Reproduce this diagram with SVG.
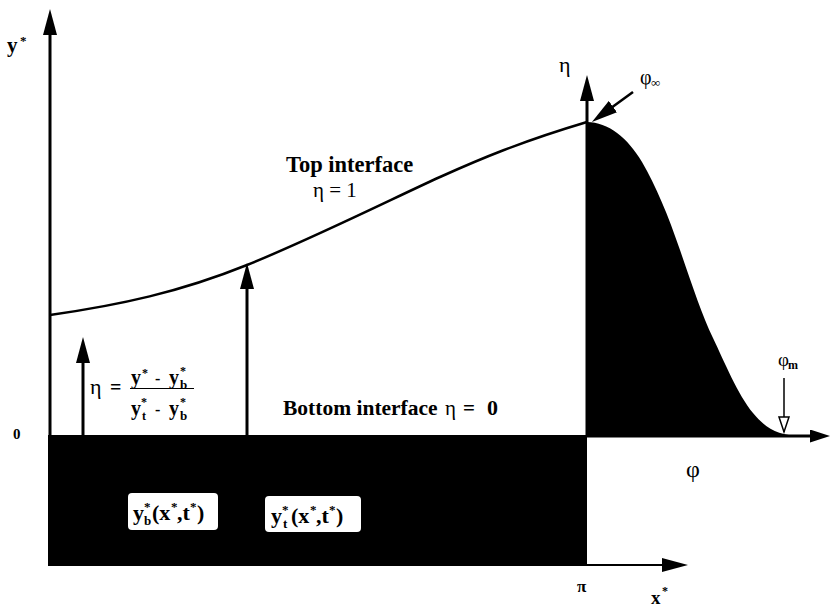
<svg xmlns="http://www.w3.org/2000/svg" width="834" height="608" viewBox="0 0 834 608">
<style>
.ln{stroke:#000;fill:none}
.b{font-family:"Liberation Serif","Times New Roman",Times,"DejaVu Serif",serif;font-weight:bold;fill:#000}
.n{font-family:"Liberation Serif","Times New Roman",Times,"DejaVu Serif",serif;font-weight:normal;fill:#000}
</style>
<defs>
<marker id="ah" markerUnits="userSpaceOnUse" viewBox="0 0 26 14" refX="16" refY="7" markerWidth="26" markerHeight="14" orient="auto">
<path d="M0,0 L26,7 L0,14 Z" fill="#000"/>
</marker>
<marker id="ahs" markerUnits="userSpaceOnUse" viewBox="0 0 20 13" refX="12" refY="6.5" markerWidth="20" markerHeight="13" orient="auto">
<path d="M0,0 L20,6.5 L0,13 Z" fill="#000"/>
</marker>
</defs>
<rect width="834" height="608" fill="#fff"/>

<g id="substrate">
<rect x="48" y="435" width="539" height="131" fill="#000"/>
</g>

<g id="phi-profile">
<path d="M587,122 C608,122 628,138 642,162 S668,215 680,250 S702,315 713,338 S738,395 753,413 S780,435 800,436 L587,436 Z" fill="#000"/>
</g>

<g id="connectors">
<line class="ln" x1="50" y1="435" x2="50" y2="19" stroke-width="3" marker-end="url(#ah)"/>
<line class="ln" x1="587" y1="565" x2="678" y2="565" stroke-width="2" marker-end="url(#ah)"/>
<line class="ln" x1="587" y1="435" x2="587" y2="85" stroke-width="3" marker-end="url(#ah)"/>
<line class="ln" x1="587" y1="436" x2="822" y2="436" stroke-width="3" marker-end="url(#ahs)"/>
<path class="ln" d="M50,315 C120,305 180,292 247,265 S400,195 440,177 S520,142 587,122" stroke-width="2.5"/>
<line class="ln" x1="83" y1="435" x2="83" y2="347" stroke-width="3" marker-end="url(#ah)"/>
<line class="ln" x1="247" y1="435" x2="247" y2="273" stroke-width="3" marker-end="url(#ah)"/>
<line class="ln" x1="633" y1="92" x2="600" y2="116" stroke-width="2.5" marker-end="url(#ah)"/>
<line class="ln" x1="784" y1="378" x2="784" y2="432" stroke-width="1.5"/>
<polygon points="779,417 789,417 784,432" fill="#fff" stroke="#000" stroke-width="1.5"/>
</g>

<g id="axis-labels">
<text class="b" x="7" y="52" font-size="21">y</text>
<text class="b" x="20" y="45" font-size="13">*</text>
<text class="b" x="13" y="439" font-size="15">0</text>
<text class="n" x="559" y="72" font-size="22">η</text>
<text class="n" x="640" y="84" font-size="20">φ</text>
<text class="n" x="651" y="87" font-size="13">∞</text>
<text class="n" x="778" y="366" font-size="19">φ</text>
<text class="b" x="788" y="369" font-size="12">m</text>
<text class="n" x="686" y="477" font-size="24">φ</text>
<text class="b" x="577" y="592" font-size="17">π</text>
<text class="b" x="651" y="604" font-size="19">x</text>
<text class="b" x="662" y="595" font-size="12">*</text>
</g>

<g id="top-interface-label">
<text class="b" x="286" y="172" font-size="22.5">Top interface</text>
<text class="n" x="313" y="197" font-size="21">η = 1</text>
</g>

<g id="bottom-interface-label">
<text class="b" x="283" y="415" font-size="21.5">Bottom interface</text>
<text class="n" x="445" y="415" font-size="21">η</text>
<text class="b" x="463" y="415" font-size="21">=</text>
<text class="b" x="487" y="415" font-size="22">0</text>
</g>

<g id="eta-formula">
<text class="n" x="90" y="394" font-size="22">η</text>
<text class="b" x="110" y="394" font-size="20">=</text>
<text class="b" x="131" y="384" font-size="20">y</text>
<text class="b" x="142" y="377" font-size="12">*</text>
<text class="b" x="155" y="384" font-size="16">-</text>
<text class="b" x="169" y="384" font-size="20">y</text>
<text class="b" x="180" y="375" font-size="12">*</text>
<text class="b" x="180" y="389" font-size="13">b</text>
<line x1="130" y1="388.5" x2="194" y2="388.5" stroke="#000" stroke-width="1.2"/>
<text class="b" x="131" y="415" font-size="20">y</text>
<text class="b" x="141" y="406" font-size="12">*</text>
<text class="b" x="142" y="420" font-size="12">t</text>
<text class="b" x="155" y="415" font-size="16">-</text>
<text class="b" x="169" y="415" font-size="20">y</text>
<text class="b" x="180" y="406" font-size="12">*</text>
<text class="b" x="180" y="420" font-size="13">b</text>
</g>

<g id="yb-box">
<rect x="128" y="493" width="90" height="37" rx="4" fill="#fff"/>
<text class="b" x="133" y="520" font-size="22">y</text>
<text class="b" x="144" y="511" font-size="13">*</text>
<text class="b" x="144" y="525" font-size="13">b</text>
<text class="b" x="152" y="520" font-size="22">(x</text>
<text class="b" x="171" y="511" font-size="13">*</text>
<text class="b" x="177" y="520" font-size="22">,t</text>
<text class="b" x="190" y="511" font-size="13">*</text>
<text class="b" x="197" y="520" font-size="22">)</text>
</g>

<g id="yt-box">
<rect x="265" y="496" width="96" height="36" rx="4" fill="#fff"/>
<text class="b" x="271" y="523" font-size="22">y</text>
<text class="b" x="282" y="514" font-size="13">*</text>
<text class="b" x="283" y="528" font-size="13">t</text>
<text class="b" x="291" y="523" font-size="22">(x</text>
<text class="b" x="310" y="514" font-size="13">*</text>
<text class="b" x="316" y="523" font-size="22">,t</text>
<text class="b" x="329" y="514" font-size="13">*</text>
<text class="b" x="336" y="523" font-size="22">)</text>
</g>
</svg>
